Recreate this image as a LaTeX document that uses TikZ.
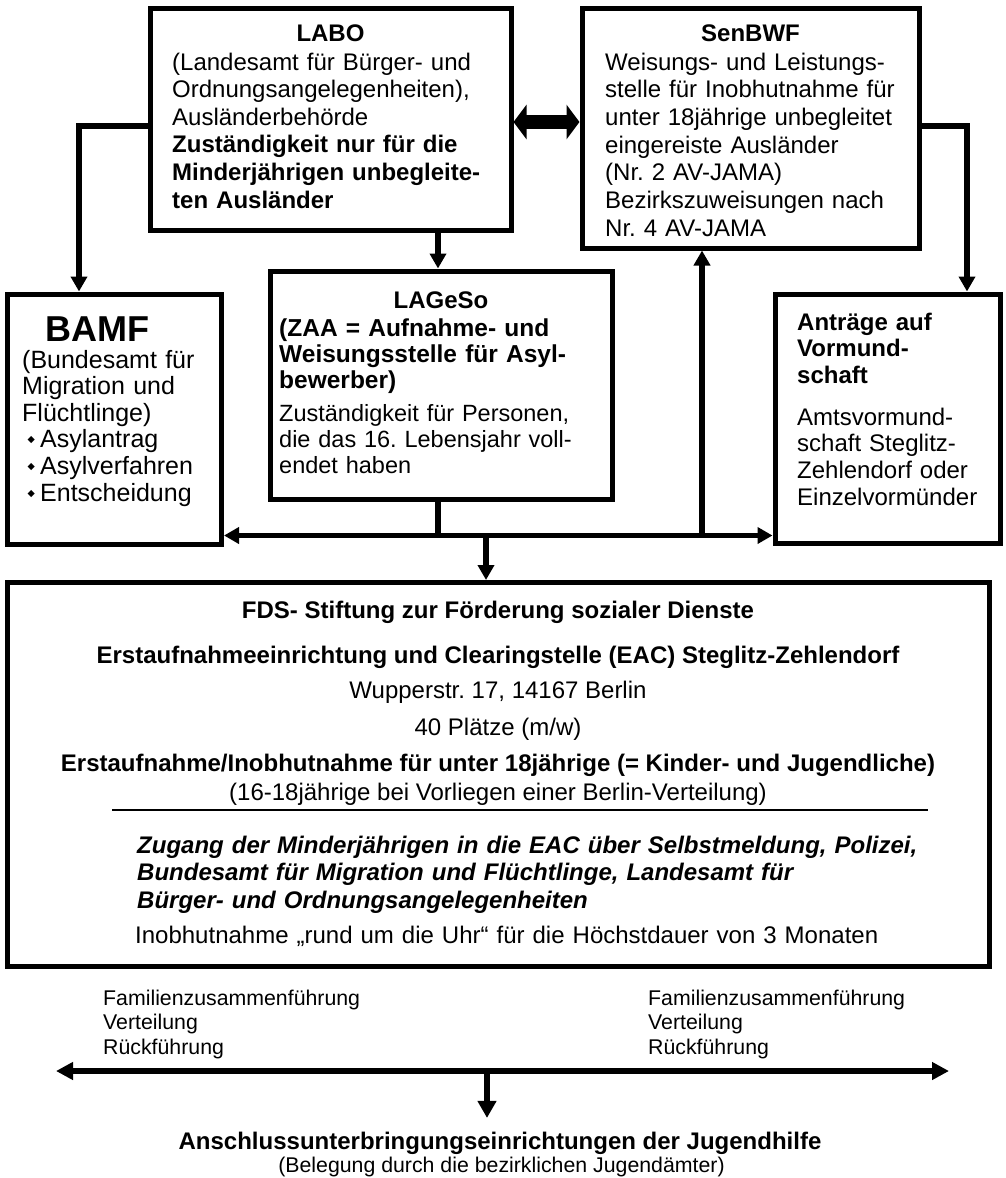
\documentclass[tikz,border=0pt]{standalone}
\usepackage{fontspec}
\setmainfont{Liberation Sans}
\newfontfamily\djv{DejaVu Sans}
\usetikzlibrary{arrows.meta}
\frenchspacing
\newcommand\fsz[2]{\fontsize{#1}{#2}\selectfont}
\newcommand\bul{\makebox[18pt][c]{\raisebox{5pt}{\djv\fontsize{9.5}{9.5}\selectfont ◆}}}
\begin{document}
\begin{tikzpicture}[x=1pt,y=-1pt,
  box/.style={draw, line width=5pt, inner sep=0pt},
  conn/.style={line width=5.5pt},
  arr/.style={-{Triangle[length=15pt,width=16pt]}},
  arrtwo/.style={{Triangle[length=15pt,width=16pt]}-{Triangle[length=15pt,width=16pt]}},
  arrbig/.style={-{Triangle[length=17pt,width=18pt]}},
  arrbigtwo/.style={{Triangle[length=17pt,width=17pt]}-{Triangle[length=17pt,width=17pt]}},
  dbl/.style={line width=14pt,{Triangle[length=13pt,width=34pt]}-{Triangle[length=13pt,width=34pt]}},
  txt/.style={inner sep=0pt, anchor=base west, align=left, text width=900pt},
  ttl/.style={inner sep=0pt, anchor=base}]
\useasboundingbox (0,0) rectangle (1005,1178);

% boxes
\node[box, minimum width=361pt, minimum height=222pt] (labo) at (330.5,119) {};
\node[box, minimum width=337pt, minimum height=240pt] (sen) at (750.5,128) {};
\node[box, minimum width=214.5pt, minimum height=250pt] (bamf) at (114.25,419) {};
\node[box, minimum width=342pt, minimum height=228pt] (lag) at (441,385) {};
\node[box, minimum width=225pt, minimum height=249pt] (antr) at (887.5,418.5) {};
\node[box, minimum width=982pt, minimum height=383.5pt] (fds) at (498,774.25) {};

% LABO text
\node[ttl, font=\bfseries\fsz{24}{27.6}] (labot) at (330.5,41) {LABO};
\node[txt, font=\fsz{24}{27.6}] (labob) at (172,70) {(Landesamt für Bürger- und\\Ordnungsangelegenheiten),\\Ausländerbehörde\\\textbf{Zuständigkeit nur für die}\\\textbf{Minderjährigen unbegleite-}\\\textbf{ten Ausländer}};

% SenBWF text
\node[ttl, font=\bfseries\fsz{24}{27.7}] (sent) at (750.5,41) {SenBWF};
\node[txt, font=\fsz{24}{27.7}] (senb) at (605,70) {Weisungs- und Leistungs-\\stelle für Inobhutnahme für\\unter 18jährige unbegleitet\\eingereiste Ausländer\\(Nr. 2 AV-JAMA)\\Bezirkszuweisungen nach\\Nr. 4 AV-JAMA};

% BAMF text
\node[txt, font=\bfseries\fsz{36}{40}] (bamft) at (45,341) {BAMF};
\node[txt, font=\fsz{25}{26.6}] (bamfb) at (22,368) {(Bundesamt für\\Migration und\\Flüchtlinge)\\\bul Asylantrag\\\bul Asylverfahren\\\bul Entscheidung};

% LAGeSo text
\node[ttl, font=\bfseries\fsz{24}{26}] (lagt) at (441,308) {LAGeSo};
\node[txt, font=\bfseries\fsz{24.5}{26}] (lagb) at (279,336) {(ZAA = Aufnahme- und\\Weisungsstelle für Asyl-\\bewerber)};
\node[txt, font=\fsz{23.5}{26}] (lagc) at (279,421) {Zuständigkeit für Personen,\\die das 16. Lebensjahr voll-\\endet haben};

% Antraege text
\node[txt, font=\bfseries\fsz{24}{26.5}] (antrt) at (797,330) {Anträge auf\\Vormund-\\schaft};
\node[txt, font=\fsz{24}{26.7}] (antrb) at (797,425) {Amtsvormund-\\schaft Steglitz-\\Zehlendorf oder\\Einzelvormünder};

% FDS text
\node[ttl, font=\bfseries\fsz{24}{28}] (f1) at (498,618) {FDS- Stiftung zur Förderung sozialer Dienste};
\node[ttl, font=\bfseries\fsz{24}{28}] (f2) at (498,663) {Erstaufnahmeeinrichtung und Clearingstelle (EAC) Steglitz-Zehlendorf};
\node[ttl, font=\fsz{24}{28}] (f3) at (498,698) {Wupperstr. 17, 14167 Berlin};
\node[ttl, font=\fsz{24}{28}] (f4) at (498,735) {40 Plätze (m/w)};
\node[ttl, font=\bfseries\fsz{24}{28}] (f5) at (498,771) {Erstaufnahme/Inobhutnahme für unter 18jährige (= Kinder- und Jugendliche)};
\node[ttl, font=\fsz{24}{28}] (f6) at (498,800) {(16-18jährige bei Vorliegen einer Berlin-Verteilung)};
\coordinate (rl) at (112,810);
\coordinate (rr) at (928,810);
\draw[line width=1.5pt] (rl) -- (rr);
\node[txt, font=\bfseries\itshape\fsz{24}{27.5}] (f7) at (137,853) {Zugang der Minderjährigen in die EAC über Selbstmeldung, Polizei,\\Bundesamt für Migration und Flüchtlinge, Landesamt für\\Bürger- und Ordnungsangelegenheiten};
\node[txt, font=\fsz{24}{28}] (f8) at (135,943) {Inobhutnahme „rund um die Uhr“ für die Höchstdauer von 3 Monaten};

% bottom texts
\node[txt, font=\fsz{21.3}{24.5}] (bl1) at (103,1005) {Familienzusammenführung\\Verteilung\\Rückführung};
\node[txt, font=\fsz{21.3}{24.5}] (br1) at (648,1005) {Familienzusammenführung\\Verteilung\\Rückführung};
\node[ttl, font=\bfseries\fsz{24}{26}, inner ysep=13.5pt] (anschl) at (500,1149) {Anschlussunterbringungseinrichtungen der Jugendhilfe};
\node[ttl, font=\fsz{21.3}{24}] (beleg) at (501.5,1172) {(Belegung durch die bezirklichen Jugendämter)};

% connectors
\coordinate (c1) at (79,126);
\coordinate (c2) at (967,126);
\coordinate (c3) at (438,250);
\coordinate (c4) at (546,122);
\coordinate (j) at (486,535.5);
\coordinate (jl) at (438,535.5);
\coordinate (ju) at (702,535.5);
\draw[conn, arr] (labo.west |- c1) -- (c1) -- (c1 |- bamf.north);
\draw[conn, arr] (sen.east |- c2) -- (c2) -- (c2 |- antr.north);
\draw[conn, arr] (c3 |- labo.south) -- (c3 |- lag.north);
\draw[dbl] (labo.east |- c4) -- (sen.west |- c4);
\draw[conn] (jl |- lag.south) -- (jl);
\draw[conn, arrtwo] (bamf.east |- j) -- (antr.west |- j);
\draw[conn, arr] (ju) -- (ju |- sen.south);
\draw[conn, arr] (j) -- (j |- fds.north);

\coordinate (bl) at (56,1071);
\coordinate (br) at (949,1071);
\coordinate (bm) at (487,1071);
\draw[conn, arrbigtwo] (bl) -- (br);
\draw[conn, arrbig] (bm) -- (bm |- anschl.north);
\end{tikzpicture}
\end{document}
